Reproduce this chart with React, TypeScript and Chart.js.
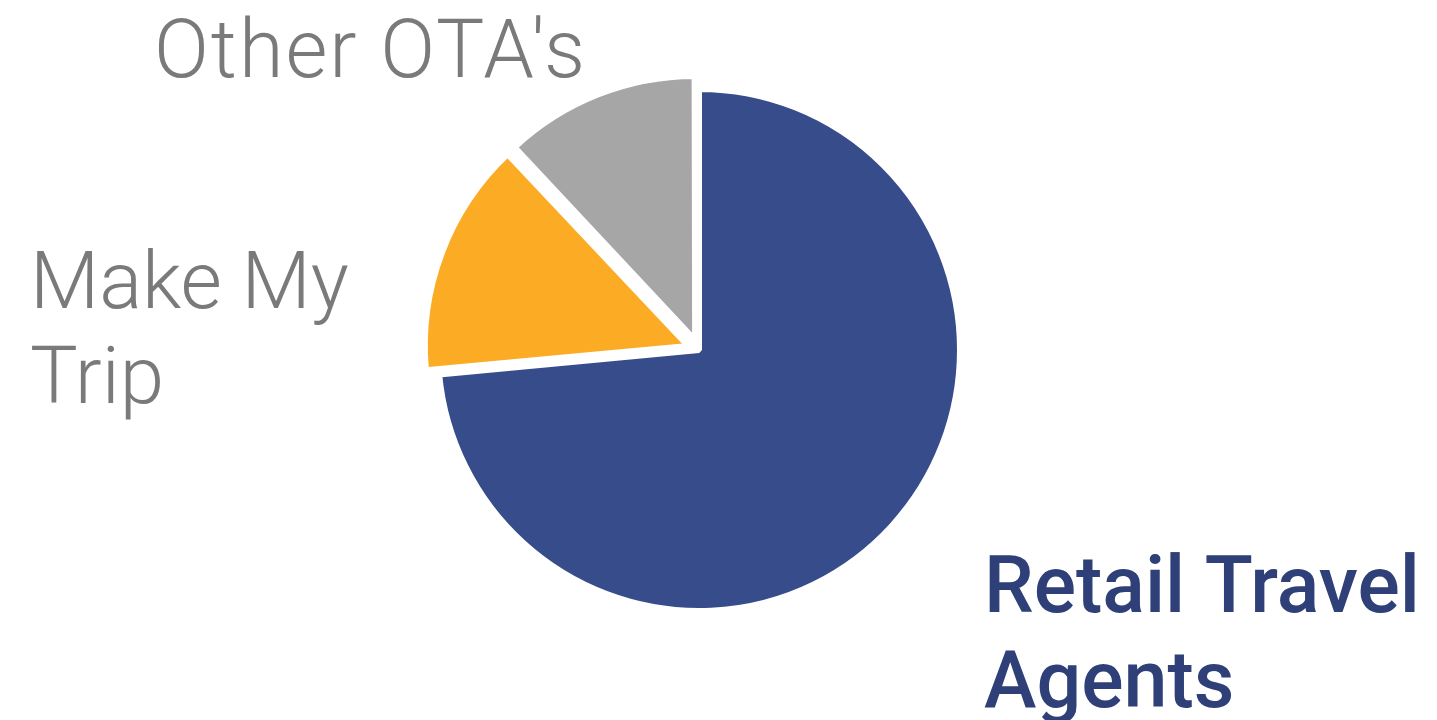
import React, { useEffect, useRef } from "react";
import { Chart, registerables } from "chart.js";

Chart.register(...registerables);

const categories = ["Retail Travel Agents", "Make My Trip", "Other OTA's"];
const shares = [73.5, 14.5, 12];
const sliceColors = ["#374c8a", "#fbab24", "#a6a6a6"];
const sliceOffsets = [0, 46, 42];

const labelPlugin = {
  id: "sliceLabels",
  afterDraw(chart: any) {
    const meta = chart.getDatasetMeta(0);
    const arc = meta.data[0];
    if (!arc) return;
    const cx = arc.x;
    const cy = arc.y;
    const ctx = chart.ctx;
    ctx.save();
    ctx.textAlign = "left";
    ctx.textBaseline = "alphabetic";
    // Other OTA's
    ctx.fillStyle = "#7a7a7a";
    ctx.font = "300 81px Roboto";
    (ctx as any).letterSpacing = "2px";
    ctx.fillText("Other OTA's", cx - 545, cy - 273);
    (ctx as any).letterSpacing = "0px";
    // Make My Trip
    ctx.font = "300 80px Roboto";
    ctx.fillText("Make My", cx - 669, cy - 42);
    ctx.fillText("Trip", cx - 669, cy + 53);
    // Retail Travel Agents
    ctx.fillStyle = "#2f4079";
    ctx.font = "500 79px Roboto";
    ctx.fillText("Retail Travel", cx + 285, cy + 262);
    ctx.fillText("Agents", cx + 285, cy + 357);
    ctx.restore();
  },
};

export default function App() {
  const ref = useRef<HTMLCanvasElement>(null);
  useEffect(() => {
    if (!ref.current) return;
    const chart = new Chart(ref.current, {
      type: "pie",
      data: {
        labels: categories,
        datasets: [
          {
            data: shares,
            backgroundColor: sliceColors,
            borderColor: "#ffffff",
            borderWidth: 6,
            offset: sliceOffsets,
          },
        ],
      },
      options: {
        animation: false,
        responsive: false,
        radius: 261,
        layout: { padding: { left: 0, right: 39, top: 0, bottom: 20 } },
        plugins: {
          legend: { display: false },
          tooltip: { enabled: false },
        },
      } as any,
      plugins: [labelPlugin],
    });
    return () => chart.destroy();
  }, []);
  return (
    <div style={{ position: "fixed", left: 0, top: 0, width: 1437, height: 720, background: "#fff" }}>
      <canvas ref={ref} width={1437} height={720} style={{ width: 1437, height: 720 }} />
    </div>
  );
}
